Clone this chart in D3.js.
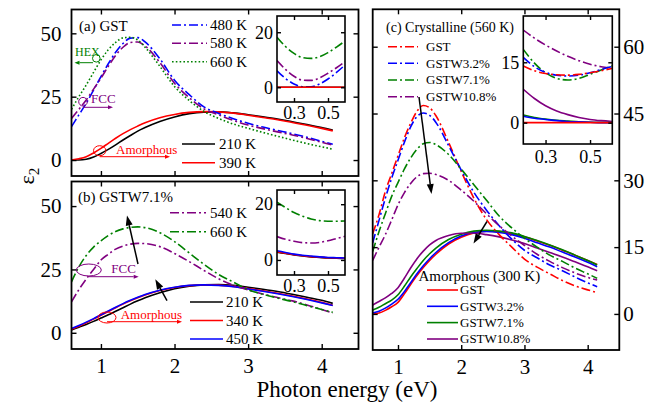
<!DOCTYPE html>
<html>
<head>
<meta charset="utf-8">
<script src="https://cdn.jsdelivr.net/npm/d3@7"></script>
<style>
body { margin: 0; background: #fff; }
svg { display: block; }
</style>
</head>
<body>
<svg id="chart" width="649" height="403"></svg>
<script>
// photon energy grid (eV) for the main curves and for the insets
var energy = [0.6, 0.7, 0.8, 0.9, 1.0, 1.1, 1.2, 1.3, 1.4, 1.5, 1.6, 1.8, 2.0, 2.2, 2.4, 2.6, 2.8, 3.0, 3.2, 3.4, 3.6, 3.8, 4.0, 4.15];
var insetEnergy = [0.2, 0.25, 0.3, 0.35, 0.4, 0.45, 0.5, 0.55, 0.6];

// (a) GST at several annealing temperatures
var gstA210 = [0, 0, 0.3, 1.2, 2.6, 4.2, 6.0, 7.9, 9.7, 11.4, 12.8, 15.2, 17.0, 18.3, 18.9, 19.0, 18.6, 17.9, 17.1, 16.2, 15.1, 14.0, 12.8, 11.8];
var gstA390 = [0, 0.5, 1.3, 2.8, 4.6, 6.6, 8.6, 10.4, 12.0, 13.4, 14.7, 16.7, 18.0, 18.8, 19.1, 19.0, 18.5, 17.7, 16.8, 15.9, 14.8, 13.7, 12.5, 11.5];
var gstA480 = [13.2, 17.8, 22.4, 27.6, 32.9, 38.0, 42.5, 46.0, 48.1, 48.3, 46.6, 40.0, 31.5, 25.8, 21.0, 18.4, 16.3, 14.5, 13.0, 11.7, 10.4, 9.0, 7.4, 6.2];
var gstA580 = [16.4, 20.0, 23.7, 28.0, 32.3, 37.0, 41.3, 44.5, 46.4, 46.6, 45.0, 38.5, 30.3, 24.6, 20.2, 17.8, 15.6, 13.8, 12.4, 11.1, 9.9, 8.5, 7.0, 5.9];
var gstA660 = [20.0, 25.0, 29.6, 34.6, 39.5, 43.5, 46.4, 48.2, 48.4, 47.4, 44.5, 37.0, 29.0, 23.5, 19.2, 16.4, 14.2, 12.5, 10.9, 9.4, 7.9, 6.5, 5.2, 4.3];
var insetA210 = [0, 0, 0, 0, 0, 0, 0, 0, 0];
var insetA390 = [0, 0, 0, 0, 0, 0, 0, 0, 0];
var insetA480 = [6.0, 3.2, 1.2, 0.2, 0.2, 1.2, 3.0, 5.4, 8.1];
var insetA580 = [9.7, 6.5, 4.0, 2.6, 2.5, 3.4, 5.1, 7.1, 9.3];
var insetA660 = [18.2, 14.8, 12.3, 10.8, 10.5, 11.1, 12.6, 14.6, 16.8];

// (b) GSTW7.1%
var gstwB210 = [1.1, 2.2, 3.3, 4.5, 5.8, 7.1, 8.5, 9.9, 11.3, 12.6, 13.8, 15.8, 17.4, 18.4, 18.9, 19.0, 18.7, 18.0, 17.2, 16.3, 15.2, 14.0, 12.8, 11.6];
var gstwB340 = [1.4, 2.6, 3.9, 5.4, 6.9, 8.4, 9.9, 11.3, 12.6, 13.8, 14.9, 16.7, 17.9, 18.6, 18.9, 18.8, 18.3, 17.5, 16.6, 15.6, 14.5, 13.3, 12.0, 10.9];
var gstwB450 = [1.7, 2.9, 4.2, 5.6, 7.1, 8.6, 10.1, 11.5, 12.8, 14.0, 15.1, 16.8, 18.0, 18.7, 18.9, 18.7, 18.2, 17.3, 16.4, 15.4, 14.3, 13.1, 11.8, 10.8];
var gstwB540 = [12.2, 17.0, 21.2, 25.0, 28.7, 31.0, 33.0, 34.2, 35.0, 35.3, 35.2, 34.0, 31.3, 28.1, 24.6, 21.3, 18.8, 16.9, 15.3, 13.9, 12.6, 11.0, 9.2, 7.8];
var gstwB660 = [20.1, 26.0, 30.5, 33.8, 36.3, 38.4, 40.0, 41.0, 41.6, 41.8, 41.5, 39.5, 36.0, 31.5, 27.0, 23.0, 20.0, 17.0, 15.2, 13.7, 12.3, 10.7, 9.2, 8.1];
var insetB210 = [2.8, 2.3, 1.8, 1.4, 1.1, 0.9, 0.7, 0.6, 0.5];
var insetB340 = [3.0, 2.4, 1.9, 1.5, 1.2, 1.0, 0.8, 0.7, 0.6];
var insetB450 = [3.3, 2.7, 2.1, 1.7, 1.4, 1.1, 0.9, 0.8, 0.7];
var insetB540 = [8.4, 7.4, 6.7, 6.2, 6.1, 6.3, 6.9, 7.7, 8.5];
var insetB660 = [20.7, 18.8, 17.0, 15.7, 14.7, 14.1, 13.9, 13.9, 14.0];

// (c) crystalline (560 K) and amorphous (300 K) films
var crysGST = [18.0, 22.3, 27.5, 31.5, 35.5, 39.5, 42.8, 45.5, 46.8, 46.3, 44.5, 38.5, 32.0, 26.0, 21.2, 17.8, 15.0, 12.3, 10.5, 9.0, 7.5, 6.3, 5.4, 4.8];
var crysW32 = [16.0, 21.0, 26.0, 30.5, 34.5, 38.5, 42.0, 44.3, 45.1, 44.6, 43.0, 37.8, 32.3, 27.3, 23.3, 19.8, 16.8, 14.3, 12.6, 11.0, 9.7, 8.3, 7.0, 6.1];
var crysW71 = [14.0, 18.5, 22.5, 26.4, 29.5, 32.5, 35.0, 37.0, 38.2, 38.5, 38.0, 35.8, 32.5, 29.0, 25.5, 22.0, 19.3, 17.0, 15.0, 13.2, 11.8, 10.3, 9.0, 8.0];
var crysW108 = [12.0, 15.0, 17.8, 21.1, 24.5, 27.2, 29.3, 30.8, 31.5, 31.6, 31.3, 30.0, 27.8, 25.3, 22.5, 19.8, 17.5, 15.4, 13.4, 11.8, 10.4, 9.2, 8.2, 7.6];
var amorGST = [0, 0.2, 0.8, 1.6, 2.6, 4.5, 6.6, 8.6, 10.4, 12.0, 13.4, 15.7, 17.2, 18.2, 18.6, 18.5, 18.0, 17.3, 16.4, 15.4, 14.3, 13.2, 12.0, 11.1];
var amorW32 = [0.2, 0.6, 1.3, 2.2, 3.3, 5.0, 7.0, 9.0, 10.8, 12.4, 13.8, 16.0, 17.5, 18.3, 18.5, 18.3, 17.8, 17.0, 16.0, 15.0, 13.9, 12.8, 11.6, 10.6];
var amorW71 = [0.9, 1.5, 2.3, 3.1, 4.3, 6.2, 8.3, 10.2, 12.0, 13.5, 14.8, 16.7, 17.9, 18.6, 18.8, 18.6, 18.2, 17.4, 16.5, 15.5, 14.4, 13.2, 12.0, 11.0];
var amorW108 = [2.0, 2.8, 3.6, 4.6, 5.9, 8.0, 10.3, 12.4, 14.1, 15.5, 16.5, 17.6, 18.1, 18.1, 17.8, 17.3, 16.6, 15.8, 14.8, 13.8, 12.8, 11.7, 10.6, 9.7];
var insetCrysGST = [14.1, 12.9, 12.2, 11.9, 11.8, 12.0, 12.4, 12.9, 13.5];
var insetCrysW32 = [16.2, 13.9, 12.5, 11.8, 11.6, 11.8, 12.4, 13.2, 14.0];
var insetCrysW71 = [18.2, 14.8, 12.4, 11.0, 10.6, 11.0, 12.0, 13.1, 14.1];
var insetCrysW108 = [23.0, 21.0, 19.3, 17.8, 16.5, 15.4, 14.5, 13.9, 13.5];
var insetAmorGST = [0, 0, 0, 0, 0, 0, 0, 0, 0];
var insetAmorW32 = [1.6, 1.1, 0.8, 0.5, 0.3, 0.2, 0.1, 0, 0];
var insetAmorW71 = [1.9, 1.3, 0.9, 0.6, 0.4, 0.2, 0.1, 0.05, 0];
var insetAmorW108 = [8.3, 6.0, 4.2, 2.9, 2.0, 1.3, 0.8, 0.5, 0.3];

// tick values
var energyTicks = [1, 2, 3, 4];
var epsTicksAB = [0, 25, 50];
var epsTicksC = [0, 15, 30, 45, 60];
var insetTicksX = [0.3, 0.5];
var insetTicksAB = [0, 20];
var insetTicksC = [0, 15];

var RED = '#ff0000', BLUE = '#0000ff', GREEN = '#008000', PURPLE = '#800080', BLACK = '#000000';
var DASHDOT = '9,3,2,3', DOTTED = '1.6,2.2';
// a single family name: the renderer does not cope with a fallback list
var SERIF = "'Liberation Serif'";

var svg = d3.select('#chart');
var defs = svg.append('defs');

// build a framed plot area with inward ticks on all four sides
function panel(cfg) {
    var x = d3.scaleLinear().domain(cfg.xDomain).range([cfg.left, cfg.right]);
    var y = d3.scaleLinear().domain(cfg.yDomain).range([cfg.bottom, cfg.top]);
    var g = svg.append('g');
    if (cfg.fill) {
        g.append('rect').attr('x', cfg.left).attr('y', cfg.top)
            .attr('width', cfg.right - cfg.left).attr('height', cfg.bottom - cfg.top).attr('fill', '#fff');
    }
    defs.append('clipPath').attr('id', 'clip-' + cfg.name).append('rect')
        .attr('x', cfg.left).attr('y', cfg.top)
        .attr('width', cfg.right - cfg.left).attr('height', cfg.bottom - cfg.top);
    var plot = g.append('g').attr('clip-path', 'url(#clip-' + cfg.name + ')');
    var axes = g.append('g');
    var t = cfg.tick;

    function fix(sel) {
        sel.attr('font-family', null).attr('font-size', cfg.fontSize);
        sel.select('.domain').remove();
        sel.selectAll('line').attr('stroke', '#000').attr('stroke-width', 1.4);
        sel.selectAll('text').attr('fill', '#000').style('font-family', SERIF);
    }
    axes.append('g').attr('transform', 'translate(0,' + cfg.bottom + ')')
        .call(d3.axisBottom(x).tickValues(cfg.xTicks).tickSizeInner(-t).tickSizeOuter(0)
            .tickPadding(cfg.xPad).tickFormat(cfg.xLabels ? cfg.xFormat : ''))
        .call(fix);
    axes.append('g').attr('transform', 'translate(0,' + cfg.top + ')')
        .call(d3.axisTop(x).tickValues(cfg.xTicks).tickSizeInner(-t).tickSizeOuter(0).tickFormat(''))
        .call(fix);
    axes.append('g').attr('transform', 'translate(' + cfg.left + ',0)')
        .call(d3.axisLeft(y).tickValues(cfg.yTicks).tickSizeInner(-t).tickSizeOuter(0)
            .tickPadding(cfg.yPad).tickFormat(cfg.yLabels === 'left' ? d3.format('d') : ''))
        .call(fix);
    axes.append('g').attr('transform', 'translate(' + cfg.right + ',0)')
        .call(d3.axisRight(y).tickValues(cfg.yTicks).tickSizeInner(-t).tickSizeOuter(0)
            .tickPadding(cfg.yPad).tickFormat(cfg.yLabels === 'right' ? d3.format('d') : ''))
        .call(fix);

    return { x: x, y: y, g: g, plot: plot, cfg: cfg };
}

function frame(p) {
    var c = p.cfg;
    p.g.append('rect').attr('x', c.left).attr('y', c.top)
        .attr('width', c.right - c.left).attr('height', c.bottom - c.top)
        .attr('fill', 'none').attr('stroke', '#000').attr('stroke-width', c.border);
}

function curves(p, xs, series) {
    var line = d3.line()
        .x(function (d, i) { return p.x(xs[i]); })
        .y(function (d) { return p.y(d); })
        .curve(d3.curveMonotoneX);
    series.forEach(function (s) {
        p.plot.append('path')
            .attr('d', line(s.values))
            .attr('fill', 'none')
            .attr('stroke', s.color)
            .attr('stroke-width', s.width || 1.6)
            .attr('stroke-dasharray', s.dash || null);
    });
}

function legend(items, x0, x1, tx, rows, fs) {
    items.forEach(function (s, i) {
        svg.append('line').attr('x1', x0).attr('x2', x1).attr('y1', rows[i]).attr('y2', rows[i])
            .attr('stroke', s.color).attr('stroke-width', s.width || 1.6)
            .attr('stroke-dasharray', s.dash || null);
        svg.append('text').attr('x', tx).attr('y', rows[i]).attr('dy', '0.34em')
            .style('font-family', SERIF).attr('font-size', fs).text(s.label);
    });
}

function label(txt, x, y, fs, color) {
    return svg.append('text').attr('x', x).attr('y', y).attr('dy', '0.34em')
        .style('font-family', SERIF).attr('font-size', fs).attr('fill', color || '#000').text(txt);
}

function arrow(x1, y1, x2, y2, color, w, hl, hw) {
    var a = Math.atan2(y2 - y1, x2 - x1);
    var bx = x2 - hl * Math.cos(a), by = y2 - hl * Math.sin(a);
    svg.append('line').attr('x1', x1).attr('y1', y1).attr('x2', bx).attr('y2', by)
        .attr('stroke', color).attr('stroke-width', w);
    var s = Math.sin(a) * hw / 2, c = Math.cos(a) * hw / 2;
    svg.append('path')
        .attr('d', 'M' + x2 + ',' + y2 + 'L' + (bx + s) + ',' + (by - c) + 'L' + (bx - s) + ',' + (by + c) + 'Z')
        .attr('fill', color);
}

function ellipse(cx, cy, rx, ry, color) {
    svg.append('ellipse').attr('cx', cx).attr('cy', cy).attr('rx', rx).attr('ry', ry)
        .attr('fill', 'none').attr('stroke', color).attr('stroke-width', 1);
}

var mainCfg = { xDomain: [0.6, 4.5], xTicks: energyTicks, tick: 5, fontSize: 21, xPad: 9, yPad: 10,
    xFormat: d3.format('d'), border: 1.8 };
var insetCfg = { xDomain: [0.2, 0.6], xTicks: insetTicksX, tick: 4, fontSize: 18, xPad: 4, yPad: 4,
    xFormat: d3.format('.1f'), yLabels: 'left', xLabels: true, border: 1.6, fill: true };

// ---------- panel (a) ----------
var pa = panel(Object.assign({}, mainCfg, { name: 'a', left: 71.5, right: 358.5, top: 9.5, bottom: 176,
    yDomain: [-6.3, 59.4], yTicks: epsTicksAB, yLabels: 'left', xLabels: false }));
var seriesA1 = [
    { label: '480 K', values: gstA480, color: BLUE, dash: DASHDOT },
    { label: '580 K', values: gstA580, color: PURPLE, dash: DASHDOT },
    { label: '660 K', values: gstA660, color: GREEN, dash: DOTTED }
];
var seriesA2 = [
    { label: '210 K', values: gstA210, color: BLACK },
    { label: '390 K', values: gstA390, color: RED }
];
curves(pa, energy, seriesA2.concat(seriesA1));
frame(pa);
label('(a)  GST', 79, 26, 15);
legend(seriesA1, 172, 207, 210, [25, 43.3, 61.7], 15);
legend(seriesA2, 182, 215, 219, [144, 162.7], 15);
label('HEX', 75, 51.5, 12, GREEN);
ellipse(96.3, 58.3, 3.8, 3.8, GREEN);
arrow(93, 62.7, 74.5, 62.7, GREEN, 1, 5, 4);
label('FCC', 91, 98.3, 13, PURPLE);
ellipse(83, 101.7, 4.3, 4.3, PURPLE);
arrow(83, 107.3, 113, 107.3, PURPLE, 1, 5, 4);
label('Amorphous', 116, 149.3, 13, RED);
ellipse(99.7, 150.7, 6.2, 5, RED);
arrow(99.7, 156.7, 170, 156.7, RED, 1, 5, 4);

var ia = panel(Object.assign({}, insetCfg, { name: 'ia', left: 277, right: 345, top: 16, bottom: 102,
    yDomain: [-5.35, 25.9], yTicks: insetTicksAB }));
curves(ia, insetEnergy, [
    { values: insetA660, color: GREEN, dash: DASHDOT },
    { values: insetA580, color: PURPLE, dash: DASHDOT },
    { values: insetA480, color: BLUE, dash: DASHDOT },
    { values: insetA210, color: BLACK },
    { values: insetA390, color: RED }
]);
frame(ia);

// ---------- panel (b) ----------
var pb = panel(Object.assign({}, mainCfg, { name: 'b', left: 71.5, right: 358.5, top: 181.5, bottom: 349,
    yDomain: [-6.4, 59.7], yTicks: epsTicksAB, yLabels: 'left', xLabels: true }));
var seriesB1 = [
    { label: '540 K', values: gstwB540, color: PURPLE, dash: DASHDOT },
    { label: '660 K', values: gstwB660, color: GREEN, dash: DASHDOT }
];
var seriesB2 = [
    { label: '210 K', values: gstwB210, color: BLACK },
    { label: '340 K', values: gstwB340, color: RED },
    { label: '450 K', values: gstwB450, color: BLUE }
];
curves(pb, energy, seriesB2.concat(seriesB1));
frame(pb);
label('(b)  GSTW7.1%', 78, 197, 15);
legend(seriesB1, 170, 206, 210, [212.7, 231.7], 15);
legend(seriesB2, 190, 223, 226, [302, 320.5, 339], 15);
ellipse(88.8, 270, 12.5, 6, PURPLE);
label('FCC', 111.3, 269, 13, PURPLE);
arrow(88.8, 276.7, 138.7, 276.7, PURPLE, 1, 5, 4);
ellipse(107, 317.5, 9, 5.5, RED);
label('Amorphous', 120.7, 315, 13, RED);
arrow(107, 321.7, 182, 321.7, RED, 1, 5, 4);
arrow(138, 264, 127, 215.5, BLACK, 1.5, 10, 7);
arrow(167, 300.7, 155.3, 279.3, BLACK, 1.5, 10, 7);

var ib = panel(Object.assign({}, insetCfg, { name: 'ib', left: 277, right: 345, top: 190, bottom: 275,
    yDomain: [-5.4, 25.1], yTicks: insetTicksAB }));
curves(ib, insetEnergy, [
    { values: insetB660, color: GREEN, dash: DASHDOT },
    { values: insetB540, color: PURPLE, dash: DASHDOT },
    { values: insetB210, color: BLACK },
    { values: insetB340, color: RED },
    { values: insetB450, color: BLUE }
]);
frame(ib);

// ---------- panel (c) ----------
var pc = panel(Object.assign({}, mainCfg, { name: 'c', left: 372.7, right: 619.3, top: 9.3, bottom: 350,
    yDomain: [-8.1, 68.4], yTicks: epsTicksC, yLabels: 'right', xLabels: true, yPad: 4 }));
var seriesC1 = [
    { label: 'GST', values: crysGST, color: RED, dash: DASHDOT },
    { label: 'GSTW3.2%', values: crysW32, color: BLUE, dash: DASHDOT },
    { label: 'GSTW7.1%', values: crysW71, color: GREEN, dash: DASHDOT },
    { label: 'GSTW10.8%', values: crysW108, color: PURPLE, dash: DASHDOT }
];
var seriesC2 = [
    { label: 'GST', values: amorGST, color: RED },
    { label: 'GSTW3.2%', values: amorW32, color: BLUE },
    { label: 'GSTW7.1%', values: amorW71, color: GREEN },
    { label: 'GSTW10.8%', values: amorW108, color: PURPLE }
];
curves(pc, energy, seriesC2.concat(seriesC1));
frame(pc);
label('(c) Crystalline (560 K)', 386, 27.3, 14);
legend(seriesC1, 388, 418, 426, [46.7, 63.3, 80, 96.7], 13);
label('Amorphous (300 K)', 418.5, 275.5, 15);
legend(seriesC2, 427, 458, 460, [290, 306.3, 322.6, 339], 13);
arrow(419, 97, 431.5, 194, BLACK, 1.5, 10, 7);
arrow(487, 221.5, 473.5, 243.5, BLACK, 1.5, 10, 7);

var ic = panel(Object.assign({}, insetCfg, { name: 'ic', left: 523.3, right: 612.3, top: 16, bottom: 144,
    yDomain: [-5.3, 26.5], yTicks: insetTicksC, fontSize: 18, xPad: 6 }));
curves(ic, insetEnergy, [
    { values: insetCrysW108, color: PURPLE, dash: DASHDOT },
    { values: insetCrysW71, color: GREEN, dash: DASHDOT },
    { values: insetCrysW32, color: BLUE, dash: DASHDOT },
    { values: insetCrysGST, color: RED, dash: DASHDOT },
    { values: insetAmorW108, color: PURPLE },
    { values: insetAmorW71, color: GREEN },
    { values: insetAmorW32, color: BLUE },
    { values: insetAmorGST, color: RED }
]);
frame(ic);

// ---------- axis titles ----------
svg.append('text').attr('x', 347).attr('y', 397).attr('text-anchor', 'middle')
    .style('font-family', SERIF).attr('font-size', 23).text('Photon energy (eV)');
var eps = svg.append('text').attr('transform', 'translate(34,176) rotate(-90)')
    .attr('text-anchor', 'middle').style('font-family', SERIF).attr('font-size', 22).text('ε');
eps.append('tspan').attr('font-size', 15).attr('dy', 5).text('2');
</script>
</body>
</html>
